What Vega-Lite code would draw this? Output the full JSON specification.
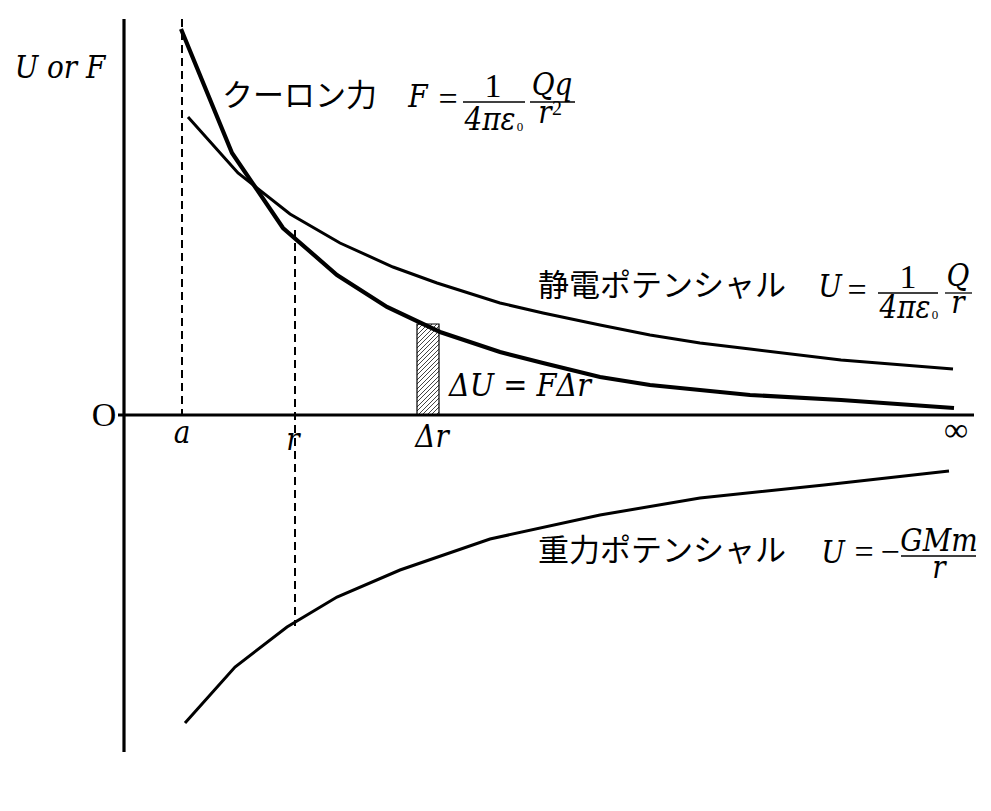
{
  "$schema": "https://vega.github.io/schema/vega-lite/v6.json",
  "width": 991,
  "height": 811,
  "autosize": "none",
  "padding": 0,
  "background": "white",
  "config": {"view": {"stroke": null}},
  "datasets": {
    "curves": [
      {"s": "F", "x": 57, "y": 386}, {"s": "F", "x": 108, "y": 262}, {"s": "F", "x": 159, "y": 187},
      {"s": "F", "x": 213, "y": 140}, {"s": "F", "x": 263, "y": 108}, {"s": "F", "x": 316, "y": 83},
      {"s": "F", "x": 376, "y": 63}, {"s": "F", "x": 419, "y": 52}, {"s": "F", "x": 476, "y": 38},
      {"s": "F", "x": 526, "y": 30}, {"s": "F", "x": 576, "y": 25}, {"s": "F", "x": 626, "y": 20},
      {"s": "F", "x": 717, "y": 15}, {"s": "F", "x": 830, "y": 7},
      {"s": "Ue", "x": 64, "y": 298}, {"s": "Ue", "x": 114, "y": 242}, {"s": "Ue", "x": 166, "y": 201},
      {"s": "Ue", "x": 216, "y": 172}, {"s": "Ue", "x": 269, "y": 148}, {"s": "Ue", "x": 313, "y": 132},
      {"s": "Ue", "x": 376, "y": 112}, {"s": "Ue", "x": 419, "y": 102}, {"s": "Ue", "x": 476, "y": 90},
      {"s": "Ue", "x": 526, "y": 80}, {"s": "Ue", "x": 576, "y": 72}, {"s": "Ue", "x": 626, "y": 66},
      {"s": "Ue", "x": 717, "y": 55}, {"s": "Ue", "x": 829, "y": 46},
      {"s": "Ug", "x": 61, "y": -308}, {"s": "Ug", "x": 111, "y": -252}, {"s": "Ug", "x": 163, "y": -212},
      {"s": "Ug", "x": 213, "y": -182}, {"s": "Ug", "x": 276, "y": -155}, {"s": "Ug", "x": 366, "y": -124},
      {"s": "Ug", "x": 476, "y": -100}, {"s": "Ug", "x": 576, "y": -83}, {"s": "Ug", "x": 700, "y": -70},
      {"s": "Ug", "x": 825, "y": -56}
    ],
    "rules": [
      {"k": "axis", "x": 0, "x2": 0, "y": 396, "y2": -337},
      {"k": "axis", "x": -6, "x2": 850, "y": 0, "y2": 0},
      {"k": "dash", "x": 58, "x2": 58, "y": 396, "y2": 0},
      {"k": "dash", "x": 171, "x2": 171, "y": 185, "y2": -211},
      {"k": "frac", "x": 339, "x2": 401, "y": 313, "y2": 313},
      {"k": "frac", "x": 406, "x2": 451, "y": 313, "y2": 313},
      {"k": "frac", "x": 754, "x2": 814, "y": 122, "y2": 122},
      {"k": "frac", "x": 821, "x2": 848, "y": 122, "y2": 122},
      {"k": "frac", "x": 777, "x2": 852, "y": -141, "y2": -141}
    ],
    "strip": [
      {"x": 293, "x2": 315, "y": 0, "y2": 91}
    ],
    "labels": [
      {"k": "jp", "t": "クーロン力", "x": 98, "y": 318},
      {"k": "jp", "t": "静電ポテンシャル", "x": 414, "y": 128},
      {"k": "jp", "t": "重力ポテンシャル", "x": 414, "y": -137},
      {"k": "it", "t": "U or F", "x": -64, "y": 337},
      {"k": "it", "t": "F", "x": 294, "y": 308},
      {"k": "it", "t": "Qq", "x": 428, "y": 320},
      {"k": "it", "t": "r", "x": 421, "y": 292},
      {"k": "it", "t": "4πε", "x": 366, "y": 285},
      {"k": "it", "t": "U", "x": 706, "y": 118},
      {"k": "it", "t": "4πε", "x": 781, "y": 97},
      {"k": "it", "t": "Q", "x": 834, "y": 129},
      {"k": "it", "t": "r", "x": 834, "y": 102},
      {"k": "it", "t": "U", "x": 709, "y": -148},
      {"k": "it", "t": "GMm", "x": 815, "y": -136},
      {"k": "it", "t": "r", "x": 815, "y": -163},
      {"k": "it", "t": "a", "x": 58, "y": -28},
      {"k": "it", "t": "r", "x": 169, "y": -35},
      {"k": "it", "t": "Δr", "x": 308, "y": -32},
      {"k": "big", "t": "ΔU = FΔr", "x": 396, "y": 19},
      {"k": "rm", "t": "=", "x": 324, "y": 305},
      {"k": "rm", "t": "1", "x": 369, "y": 318},
      {"k": "rm", "t": "=", "x": 733, "y": 114},
      {"k": "rm", "t": "1", "x": 784, "y": 127},
      {"k": "rm", "t": "=", "x": 740, "y": -148},
      {"k": "rm", "t": "−", "x": 766, "y": -148},
      {"k": "rm", "t": "O", "x": -20, "y": -11},
      {"k": "rm", "t": "∞", "x": 832, "y": -26},
      {"k": "sub", "t": "0", "x": 396, "y": 284},
      {"k": "sub", "t": "0", "x": 811, "y": 96},
      {"k": "sup", "t": "2", "x": 433, "y": 300}
    ]
  },
  "encoding": {
    "x": {"field": "x", "type": "quantitative", "axis": null,
          "scale": {"domain": [-124, 867], "nice": false, "zero": false}},
    "y": {"field": "y", "type": "quantitative", "axis": null,
          "scale": {"domain": [-396, 415], "nice": false, "zero": false}}
  },
  "layer": [
    {
      "data": {"name": "strip"},
      "mark": {
        "type": "rect", "stroke": "black", "strokeWidth": 1.2,
        "fill": {
          "gradient": "linear", "x1": 0, "y1": 0, "x2": 0.3, "y2": 1.24,
          "stops": [
            {"offset": 0.010, "color": "white"}, {"offset": 0.010, "color": "#444"}, {"offset": 0.019, "color": "#444"}, {"offset": 0.019, "color": "white"},
            {"offset": 0.048, "color": "white"}, {"offset": 0.048, "color": "#444"}, {"offset": 0.057, "color": "#444"}, {"offset": 0.057, "color": "white"},
            {"offset": 0.085, "color": "white"}, {"offset": 0.085, "color": "#444"}, {"offset": 0.094, "color": "#444"}, {"offset": 0.094, "color": "white"},
            {"offset": 0.123, "color": "white"}, {"offset": 0.123, "color": "#444"}, {"offset": 0.132, "color": "#444"}, {"offset": 0.132, "color": "white"},
            {"offset": 0.161, "color": "white"}, {"offset": 0.161, "color": "#444"}, {"offset": 0.170, "color": "#444"}, {"offset": 0.170, "color": "white"},
            {"offset": 0.199, "color": "white"}, {"offset": 0.199, "color": "#444"}, {"offset": 0.208, "color": "#444"}, {"offset": 0.208, "color": "white"},
            {"offset": 0.236, "color": "white"}, {"offset": 0.236, "color": "#444"}, {"offset": 0.245, "color": "#444"}, {"offset": 0.245, "color": "white"},
            {"offset": 0.274, "color": "white"}, {"offset": 0.274, "color": "#444"}, {"offset": 0.283, "color": "#444"}, {"offset": 0.283, "color": "white"},
            {"offset": 0.312, "color": "white"}, {"offset": 0.312, "color": "#444"}, {"offset": 0.321, "color": "#444"}, {"offset": 0.321, "color": "white"},
            {"offset": 0.349, "color": "white"}, {"offset": 0.349, "color": "#444"}, {"offset": 0.358, "color": "#444"}, {"offset": 0.358, "color": "white"},
            {"offset": 0.387, "color": "white"}, {"offset": 0.387, "color": "#444"}, {"offset": 0.396, "color": "#444"}, {"offset": 0.396, "color": "white"},
            {"offset": 0.425, "color": "white"}, {"offset": 0.425, "color": "#444"}, {"offset": 0.434, "color": "#444"}, {"offset": 0.434, "color": "white"},
            {"offset": 0.462, "color": "white"}, {"offset": 0.462, "color": "#444"}, {"offset": 0.471, "color": "#444"}, {"offset": 0.471, "color": "white"},
            {"offset": 0.500, "color": "white"}, {"offset": 0.500, "color": "#444"}, {"offset": 0.509, "color": "#444"}, {"offset": 0.509, "color": "white"},
            {"offset": 0.538, "color": "white"}, {"offset": 0.538, "color": "#444"}, {"offset": 0.547, "color": "#444"}, {"offset": 0.547, "color": "white"},
            {"offset": 0.576, "color": "white"}, {"offset": 0.576, "color": "#444"}, {"offset": 0.585, "color": "#444"}, {"offset": 0.585, "color": "white"},
            {"offset": 0.613, "color": "white"}, {"offset": 0.613, "color": "#444"}, {"offset": 0.622, "color": "#444"}, {"offset": 0.622, "color": "white"},
            {"offset": 0.651, "color": "white"}, {"offset": 0.651, "color": "#444"}, {"offset": 0.660, "color": "#444"}, {"offset": 0.660, "color": "white"},
            {"offset": 0.689, "color": "white"}, {"offset": 0.689, "color": "#444"}, {"offset": 0.698, "color": "#444"}, {"offset": 0.698, "color": "white"},
            {"offset": 0.726, "color": "white"}, {"offset": 0.726, "color": "#444"}, {"offset": 0.735, "color": "#444"}, {"offset": 0.735, "color": "white"},
            {"offset": 0.764, "color": "white"}, {"offset": 0.764, "color": "#444"}, {"offset": 0.773, "color": "#444"}, {"offset": 0.773, "color": "white"},
            {"offset": 0.802, "color": "white"}, {"offset": 0.802, "color": "#444"}, {"offset": 0.811, "color": "#444"}, {"offset": 0.811, "color": "white"},
            {"offset": 0.839, "color": "white"}, {"offset": 0.839, "color": "#444"}, {"offset": 0.848, "color": "#444"}, {"offset": 0.848, "color": "white"},
            {"offset": 0.877, "color": "white"}, {"offset": 0.877, "color": "#444"}, {"offset": 0.886, "color": "#444"}, {"offset": 0.886, "color": "white"},
            {"offset": 0.915, "color": "white"}, {"offset": 0.915, "color": "#444"}, {"offset": 0.924, "color": "#444"}, {"offset": 0.924, "color": "white"}
          ]
        }
      },
      "encoding": {"x2": {"field": "x2"}, "y2": {"field": "y2"}}
    },
    {
      "data": {"name": "rules"},
      "transform": [{"filter": "datum.k === 'axis'"}],
      "mark": {"type": "rule", "color": "black", "strokeWidth": 3.2, "strokeCap": "butt"},
      "encoding": {"x2": {"field": "x2"}, "y2": {"field": "y2"}}
    },
    {
      "data": {"name": "rules"},
      "transform": [{"filter": "datum.k === 'dash'"}],
      "mark": {"type": "rule", "color": "black", "strokeWidth": 2, "strokeDash": [8, 5], "strokeCap": "butt"},
      "encoding": {"x2": {"field": "x2"}, "y2": {"field": "y2"}}
    },
    {
      "data": {"name": "rules"},
      "transform": [{"filter": "datum.k === 'frac'"}],
      "mark": {"type": "rule", "color": "black", "strokeWidth": 1.3, "strokeCap": "butt"},
      "encoding": {"x2": {"field": "x2"}, "y2": {"field": "y2"}}
    },
    {
      "data": {"name": "curves"},
      "transform": [{"filter": "datum.s !== 'F'"}],
      "mark": {"type": "line", "color": "black", "strokeWidth": 3, "strokeCap": "butt"},
      "encoding": {"detail": {"field": "s"}}
    },
    {
      "data": {"name": "curves"},
      "transform": [{"filter": "datum.s === 'F'"}],
      "mark": {"type": "line", "color": "black", "strokeWidth": 4.2, "strokeCap": "butt"},
      "encoding": {}
    },
    {
      "data": {"name": "labels"},
      "transform": [{"filter": "datum.k === 'jp'"}],
      "mark": {"type": "text", "font": "Noto Sans CJK JP", "fontSize": 31, "align": "left", "baseline": "middle", "color": "black"},
      "encoding": {"text": {"field": "t"}}
    },
    {
      "data": {"name": "labels"},
      "transform": [{"filter": "datum.k === 'it'"}],
      "mark": {"type": "text", "font": "DejaVu Serif Condensed, DejaVu Serif", "fontStyle": "italic", "fontSize": 31, "align": "center", "baseline": "alphabetic", "color": "black"},
      "encoding": {"text": {"field": "t"}}
    },
    {
      "data": {"name": "labels"},
      "transform": [{"filter": "datum.k === 'big'"}],
      "mark": {"type": "text", "font": "DejaVu Serif Condensed, DejaVu Serif", "fontStyle": "italic", "fontSize": 32, "align": "center", "baseline": "alphabetic", "color": "black"},
      "encoding": {"text": {"field": "t"}}
    },
    {
      "data": {"name": "labels"},
      "transform": [{"filter": "datum.k === 'rm'"}],
      "mark": {"type": "text", "font": "Liberation Serif", "fontSize": 34, "align": "center", "baseline": "alphabetic", "color": "black"},
      "encoding": {"text": {"field": "t"}}
    },
    {
      "data": {"name": "labels"},
      "transform": [{"filter": "datum.k === 'sub'"}],
      "mark": {"type": "text", "font": "Liberation Serif", "fontSize": 13, "align": "center", "baseline": "alphabetic", "color": "black"},
      "encoding": {"text": {"field": "t"}}
    },
    {
      "data": {"name": "labels"},
      "transform": [{"filter": "datum.k === 'sup'"}],
      "mark": {"type": "text", "font": "Liberation Serif", "fontSize": 20, "align": "center", "baseline": "alphabetic", "color": "black"},
      "encoding": {"text": {"field": "t"}}
    }
  ]
}
